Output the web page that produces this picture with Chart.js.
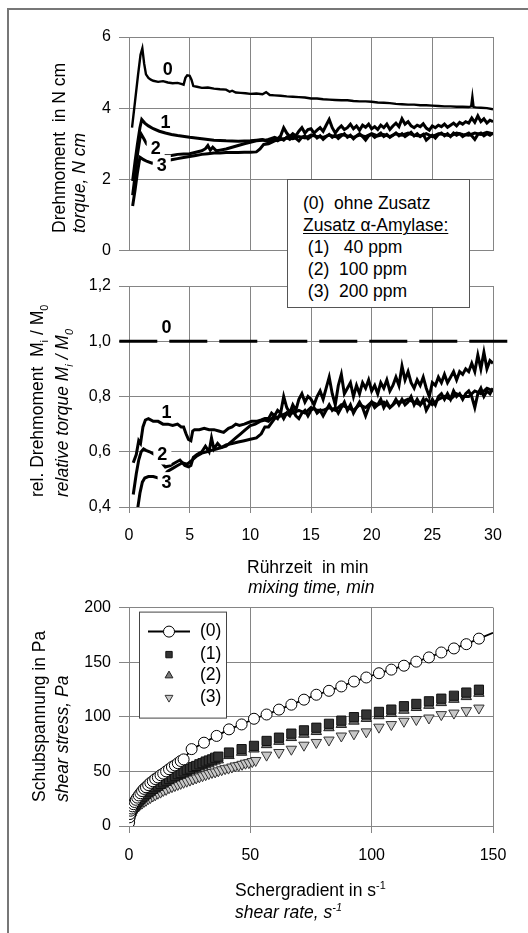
<!DOCTYPE html>
<html>
<head>
<meta charset="utf-8">
<script src="https://cdn.jsdelivr.net/npm/chart.js@4.4.1/dist/chart.umd.min.js"></script>
<style>
  body { margin: 0; background: #fff; font-family: "Liberation Sans", Arial, sans-serif; color: #000; }
  #page { position: relative; width: 528px; height: 933px; overflow: hidden; }
  canvas { position: absolute; left: 0; }
  .frame { position: absolute; left: 7px; top: 8px; width: 560px; height: 960px; border-left: 2px solid #777; border-top: 2px solid #777; }
  .t { position: absolute; font-size: 17.5px; line-height: 20px; white-space: pre; z-index: 3; }
  .r { transform-origin: 0 0; transform: rotate(-90deg); }
  .i { font-style: italic; }
  sub, sup { font-size: 62%; line-height: 0; }
  #legendTop { position: absolute; left: 287px; top: 179px; width: 181px; border: 1px solid #555;
    background: #fff; z-index: 4; box-sizing: content-box; padding-top: 12px; height: 115px; }
  #legendTop div { font-size: 17.5px; line-height: 22px; white-space: pre; padding-left: 15px; }
  #legendTop u { text-decoration-thickness: 1px; text-underline-offset: 2px; }
</style>
</head>
<body>
<div id="page">
  <div class="frame"></div>
  <canvas id="torqueChart" width="528" height="268" style="top:0"></canvas>
  <canvas id="relChart" width="528" height="292" style="top:268px"></canvas>
  <canvas id="shearChart" width="528" height="290" style="top:590px"></canvas>

  <div id="legendTop">
    <div>(0)  ohne Zusatz</div>
    <div><u>Zusatz α-Amylase:</u></div>
    <div> (1)   40 ppm</div>
    <div> (2)  100 ppm</div>
    <div> (3)  200 ppm</div>
  </div>

  <div class="t r" style="left:49px;top:233px">Drehmoment  in N cm</div>
  <div class="t r i" style="left:69px;top:233px">torque, N cm</div>
  <div class="t r" style="left:27px;top:497px">rel. Drehmoment  M<sub>i</sub> / M<sub>0</sub></div>
  <div class="t r i" style="left:52px;top:497px">relative torque M<sub>i</sub> / M<sub>0</sub></div>
  <div class="t r" style="left:29px;top:802px">Schubspannung in Pa</div>
  <div class="t r i" style="left:52px;top:802px">shear stress, Pa</div>

  <div class="t" style="left:247px;top:557px">Rührzeit  in min</div>
  <div class="t i" style="left:248px;top:577px">mixing time, min</div>
  <div class="t" style="left:235px;top:880px">Schergradient in s<sup>-1</sup></div>
  <div class="t i" style="left:235px;top:902px">shear rate, s<sup>-1</sup></div>
</div>

<script>
// torque in N cm over mixing time (min)
const tTop0 = [0.25, 0.5, 0.75, 0.95, 1.1, 1.25, 1.4, 1.6, 1.8, 2.0, 2.4, 2.8, 3.2, 3.6, 4.0, 4.3, 4.5, 4.65, 4.8, 5.0,
  5.15, 5.3, 5.6, 6.0, 6.5, 7.0, 7.5, 8.0, 8.3, 8.5, 8.8, 9.2, 9.6, 10.0, 10.5, 11.0, 11.3, 11.6, 12.0, 12.5,
  13, 13.5, 14, 14.5, 15, 15.5, 16, 16.5, 17, 17.5, 18, 18.5, 19, 19.5, 20, 20.5, 21, 21.5, 22, 22.5,
  23, 23.5, 24, 24.5, 25, 25.5, 26, 26.5, 27, 27.5, 28, 28.2, 28.3, 28.4, 28.6, 29, 29.5, 30]
const vTop0 = [3.45, 4.2, 4.95, 5.5, 5.68, 5.25, 4.95, 4.85, 4.80, 4.77, 4.74, 4.76, 4.72, 4.70, 4.71, 4.68, 4.66, 4.85, 4.92, 4.91,
  4.80, 4.62, 4.60, 4.57, 4.58, 4.55, 4.53, 4.52, 4.46, 4.49, 4.44, 4.43, 4.42, 4.40, 4.41, 4.39, 4.45, 4.37, 4.36, 4.35,
  4.33, 4.32, 4.31, 4.30, 4.27, 4.27, 4.25, 4.24, 4.23, 4.22, 4.22, 4.20, 4.19, 4.19, 4.18, 4.16, 4.15, 4.14, 4.12, 4.11,
  4.10, 4.10, 4.08, 4.08, 4.07, 4.06, 4.05, 4.05, 4.04, 4.04, 4.03, 4.05, 4.32, 4.03, 4.02, 4.01, 4.0, 3.97]

const tTop1 = [0.3, 0.5, 0.7, 0.9, 1.05, 1.3, 1.6, 2.0, 2.5, 3.0, 3.5, 4.0, 5.0, 6.0, 7.0, 8.0, 9.0, 10.0, 10.5, 11.0, 11.25]
const vTop1 = [1.95, 2.5, 3.0, 3.45, 3.68, 3.58, 3.50, 3.42, 3.35, 3.30, 3.26, 3.23, 3.18, 3.14, 3.10, 3.08, 3.07, 3.08, 3.10, 3.12, 3.10]
const tTop2 = [0.3, 0.5, 0.7, 0.9, 1.0, 1.2, 1.45, 1.7, 2.1, 2.6, 3.0, 3.5, 4.0, 4.5, 5.0, 5.5, 6.0, 6.3, 6.5, 6.7,
  6.9, 7.2, 7.5, 8.0, 8.5, 9.0, 9.5, 10.0, 10.5, 11.0, 11.25]
const vTop2 = [1.55, 2.1, 2.7, 3.15, 3.27, 3.15, 3.0, 2.92, 2.80, 2.68, 2.66, 2.67, 2.70, 2.71, 2.72, 2.76, 2.80, 2.86, 2.95, 2.82,
  2.90, 2.80, 2.82, 2.85, 2.90, 2.95, 3.00, 3.04, 3.08, 3.10, 3.08]
const tTop3 = [0.3, 0.5, 0.7, 0.9, 1.0, 1.2, 1.5, 1.9, 2.5, 3.0, 3.5, 4.0, 4.5, 5.0, 5.5, 6.0, 6.5, 7.0, 7.5, 8.0,
  8.5, 9.0, 9.5, 10.0, 10.5, 10.8, 11.1]
const vTop3 = [1.25, 1.7, 2.2, 2.62, 2.6, 2.55, 2.5, 2.45, 2.5, 2.52, 2.55, 2.58, 2.61, 2.64, 2.67, 2.70, 2.72, 2.74, 2.74, 2.75,
  2.75, 2.75, 2.76, 2.76, 2.77, 2.85, 2.98]

// noisy part after about 11.5 min
const tBand = [11.5, 11.75, 12, 12.25, 12.5, 12.75, 13, 13.25, 13.5, 13.75, 14, 14.25, 14.5, 14.75, 15, 15.25, 15.5, 15.75, 16, 16.25,
  16.5, 16.75, 17, 17.25, 17.5, 17.75, 18, 18.25, 18.5, 18.75, 19, 19.25, 19.5, 19.75, 20, 20.25, 20.5, 20.75, 21, 21.25,
  21.5, 21.75, 22, 22.25, 22.5, 22.75, 23, 23.25, 23.5, 23.75, 24, 24.25, 24.5, 24.75, 25, 25.25, 25.5, 25.75, 26, 26.25,
  26.5, 26.75, 27, 27.25, 27.5, 27.75, 28, 28.25, 28.5, 28.75, 29, 29.25, 29.5, 29.75, 30]
const vTop1Band = [3.12, 3.15, 3.18, 3.14, 3.22, 3.45, 3.30, 3.20, 3.28, 3.22, 3.35, 3.45, 3.30, 3.40, 3.42, 3.30, 3.38, 3.45, 3.35, 3.52,
  3.68, 3.45, 3.30, 3.42, 3.50, 3.40, 3.45, 3.55, 3.42, 3.50, 3.38, 3.52, 3.46, 3.55, 3.42, 3.48, 3.40, 3.52, 3.45, 3.55,
  3.40, 3.50, 3.58, 3.48, 3.70, 3.55, 3.62, 3.50, 3.45, 3.52, 3.48, 3.56, 3.44, 3.38, 3.50, 3.45, 3.52, 3.48, 3.55, 3.46,
  3.52, 3.58, 3.50, 3.60, 3.55, 3.62, 3.58, 3.72, 3.60, 3.78, 3.62, 3.70, 3.58, 3.66, 3.62]
const vTop2Band = [3.05, 3.10, 3.12, 3.08, 3.15, 3.10, 3.18, 3.12, 3.20, 3.15, 3.08, 3.18, 3.22, 3.14, 3.20, 3.26, 3.16, 3.22, 3.12, 3.20,
  3.26, 3.18, 3.24, 3.15, 3.22, 3.28, 3.18, 3.24, 3.14, 3.22, 3.28, 3.20, 3.10, 3.22, 3.26, 3.18, 3.24, 3.30, 3.20, 3.26,
  3.18, 3.24, 3.30, 3.22, 3.28, 3.20, 3.26, 3.32, 3.22, 3.28, 3.20, 3.26, 3.10, 3.18, 3.24, 3.16, 3.26, 3.30, 3.22, 3.28,
  3.20, 3.30, 3.24, 3.28, 3.20, 3.26, 3.30, 3.22, 3.12, 3.26, 3.30, 3.22, 3.28, 3.24, 3.30]
const tBand3 = [11.5, 12, 12.5, 13, 13.5, 14, 14.5, 15, 15.5, 16, 16.5, 17, 17.5, 18, 18.5, 19, 19.5, 20, 20.5, 21,
  21.5, 22, 22.5, 23, 23.5, 24, 24.5, 25, 25.5, 26, 26.5, 27, 27.5, 28, 28.5, 29, 29.5, 30]
const vTop3Band = [3.0, 3.08, 3.12, 3.16, 3.14, 3.20, 3.16, 3.24, 3.20, 3.18, 3.24, 3.20, 3.26, 3.22, 3.18, 3.24, 3.20, 3.28, 3.22, 3.26,
  3.20, 3.28, 3.24, 3.30, 3.24, 3.22, 3.28, 3.20, 3.28, 3.26, 3.22, 3.30, 3.26, 3.24, 3.30, 3.26, 3.32, 3.28]

// relative torque Mi / M0
const tRel0 = [-0.8, 31.6]
const vRel0 = [1.0, 1.0]
const tRel1 = [0.35, 0.6, 0.8, 0.95, 1.15, 1.35, 1.6, 2.0, 2.4, 2.8, 3.2, 3.6, 4.0, 4.3, 4.5, 4.7, 4.9, 5.1, 5.25, 5.4,
  5.8, 6.2, 6.6, 7.0, 7.4, 7.8, 8.2, 8.5, 8.8, 9.1, 9.5, 9.8, 10.1, 10.5, 10.9, 11.2]
const vRel1 = [0.56, 0.59, 0.64, 0.63, 0.69, 0.715, 0.72, 0.71, 0.71, 0.70, 0.70, 0.695, 0.70, 0.69, 0.69, 0.665, 0.645, 0.64, 0.675, 0.68,
  0.68, 0.685, 0.68, 0.68, 0.675, 0.67, 0.685, 0.69, 0.70, 0.695, 0.70, 0.705, 0.71, 0.71, 0.715, 0.72]
const tRel2 = [0.35, 0.6, 0.8, 1.0, 1.2, 1.4, 1.7, 2.1, 2.5, 3.0, 3.4, 3.8, 4.2, 4.6, 4.9, 5.1, 5.3, 5.6, 6.0, 6.3,
  6.6, 6.8, 7.0, 7.3, 7.6, 8.0, 8.4, 8.8, 9.2, 9.6, 10.0, 10.4, 10.8, 11.2]
const vRel2 = [0.445, 0.52, 0.57, 0.60, 0.61, 0.605, 0.60, 0.59, 0.57, 0.545, 0.55, 0.56, 0.57, 0.55, 0.545, 0.55, 0.58, 0.59, 0.60, 0.62,
  0.60, 0.65, 0.61, 0.63, 0.615, 0.62, 0.635, 0.65, 0.665, 0.68, 0.695, 0.70, 0.71, 0.715]
const tRel3 = [0.7, 0.9, 1.1, 1.3, 1.6, 2.0, 2.4, 2.8, 3.2, 3.6, 4.0, 4.4, 4.8, 5.2, 5.6, 6.0, 6.4, 6.8, 7.2, 7.6,
  8.0, 8.5, 9.0, 9.5, 10.0, 10.5, 10.9, 11.2]
const vRel3 = [0.39, 0.45, 0.49, 0.505, 0.51, 0.51, 0.505, 0.51, 0.53, 0.54, 0.55, 0.56, 0.555, 0.57, 0.585, 0.595, 0.60, 0.605, 0.61, 0.615,
  0.625, 0.63, 0.635, 0.64, 0.645, 0.65, 0.665, 0.69]
const vRel1Band = [0.72, 0.74, 0.73, 0.75, 0.74, 0.80, 0.76, 0.74, 0.77, 0.75, 0.79, 0.81, 0.78, 0.80, 0.79, 0.77, 0.80, 0.82, 0.79, 0.83,
  0.87, 0.81, 0.77, 0.84, 0.88, 0.81, 0.83, 0.85, 0.80, 0.84, 0.81, 0.85, 0.83, 0.86, 0.82, 0.84, 0.81, 0.85, 0.83, 0.86,
  0.82, 0.84, 0.87, 0.84, 0.91, 0.86, 0.89, 0.85, 0.83, 0.86, 0.84, 0.87, 0.83, 0.80, 0.85, 0.84, 0.87, 0.85, 0.88, 0.85,
  0.87, 0.89, 0.86, 0.89, 0.88, 0.90, 0.89, 0.92, 0.89, 0.95, 0.90, 0.96, 0.90, 0.93, 0.92]
const vRel2Band = [0.71, 0.72, 0.73, 0.72, 0.74, 0.72, 0.74, 0.73, 0.75, 0.73, 0.72, 0.74, 0.75, 0.73, 0.75, 0.76, 0.74, 0.75, 0.73, 0.75,
  0.77, 0.75, 0.76, 0.74, 0.76, 0.78, 0.75, 0.77, 0.74, 0.76, 0.78, 0.76, 0.73, 0.76, 0.78, 0.76, 0.77, 0.79, 0.76, 0.78,
  0.76, 0.77, 0.79, 0.77, 0.79, 0.77, 0.78, 0.80, 0.77, 0.79, 0.77, 0.79, 0.75, 0.77, 0.79, 0.77, 0.80, 0.81, 0.79, 0.81,
  0.79, 0.82, 0.80, 0.81, 0.79, 0.81, 0.82, 0.80, 0.76, 0.81, 0.83, 0.80, 0.82, 0.81, 0.83]
const vRel3Band = [0.69, 0.72, 0.73, 0.74, 0.74, 0.75, 0.74, 0.76, 0.75, 0.75, 0.76, 0.75, 0.77, 0.76, 0.75, 0.77, 0.76, 0.78, 0.77, 0.78,
  0.76, 0.78, 0.78, 0.79, 0.78, 0.77, 0.79, 0.77, 0.79, 0.80, 0.79, 0.81, 0.80, 0.80, 0.82, 0.81, 0.83, 0.82]

// curve labels: text, time, value, white backing
const torqueLabels = [["0", 3.2, 5.1, false], ["1", 3.0, 3.6, false], ["2", 2.2, 2.88, true], ["3", 2.7, 2.4, true]]
const relLabels = [["0", 3.1, 1.05, false], ["1", 3.1, 0.745, false], ["2", 2.75, 0.59, true], ["3", 3.1, 0.49, true]]

// flow curves: shear rate (1/s) and shear stress (Pa)
const shearLow0 = [0, 0.2, 0.4, 0.7, 1.0, 1.4, 1.8, 2.3, 2.8, 3.4, 4.0, 4.7, 5.4, 6.2, 7.0, 7.9, 8.8, 9.8, 10.8, 11.9,
  13.0, 14.1, 15.3, 16.5, 17.7, 18.9, 20.1, 21.3, 22.5]
const shearRamp0 = [25.8, 30.9, 36.1, 41.2, 46.4, 51.5, 56.7, 61.8, 66.9, 72.1, 77.2, 82.4, 87.5, 92.7, 97.8, 103.0, 108.1, 113.3, 118.4, 123.6,
  128.7, 133.9, 139.0, 144.2, 150]
const stress0 = [3, 8, 11, 14, 16, 18, 20, 22, 24, 26, 28, 30, 32, 34, 35.5, 37.5, 39.5, 41, 43, 44.5,
  46.5, 48, 50, 52, 54, 55.5, 57.5, 59.5, 61,
  70.4, 76.3, 82.5, 88.5, 93, 98.2, 102.1, 106.6, 111.1, 115.7, 120.2, 123.8, 127.8, 132.3, 136, 139.9, 143.2, 146.8, 150.5, 154.4,
  158.9, 162.6, 166.5, 171.6, 176.9]
const shearLow = [0, 0.2, 0.4, 0.7, 1.0, 1.4, 1.8, 2.3, 2.8, 3.4, 4.0, 4.7, 5.4, 6.2, 7.0, 7.9, 8.8, 9.8, 10.8, 11.9,
  13.0, 14.1, 15.3, 16.5, 17.7, 18.9, 20.1, 21.3, 22.5, 23.8, 25.1, 26.4, 27.7, 29.0, 30.3, 31.6, 32.9, 34.2, 35.5, 36.8]
const shearRamp1 = [41.2, 46.4, 51.5, 56.7, 61.8, 66.9, 72.1, 77.2, 82.4, 87.5, 92.7, 97.8, 103.0, 108.1, 113.3, 118.4, 123.6, 128.7, 133.9, 139.0, 144.2]
const stress1 = [2, 7, 10, 12.5, 14, 16, 17.5, 19, 20.5, 22, 23.5, 25, 26.5, 28, 29.5, 31, 32.5, 34, 35.5, 37,
  38.5, 40, 41.5, 43, 44.5, 46, 47.5, 48.5, 50, 51.5, 52.5, 54, 55, 56.5, 57.5, 59, 60, 61, 62.5, 63.5,
  67.3, 70.4, 73.4, 77.9, 80.9, 84.6, 87.6, 90, 93.6, 96.5, 99.7, 102.1, 104.5, 106.6, 109.7, 111.8, 114.2, 116.6, 119.3, 122.2, 124.8]
const stress2 = [1, 6, 9, 11, 12.5, 14.5, 16, 17.5, 19, 20.5, 22, 23.5, 25, 26.5, 28, 29.5, 31, 32.5, 34, 35.5,
  37, 38.5, 40, 41.5, 43, 44, 45.5, 46.5, 48, 49, 50.5, 51.5, 52.5, 54, 55, 56, 57, 58.5, 59.5, 60.5,
  64.5, 67.5, 70.5, 74.5, 77.5, 81, 84, 86.5, 90, 93, 96, 98.5, 101, 103, 106, 108.5, 110.5, 113, 116, 118.5, 121.5]
const shearLow3 = [0, 0.2, 0.4, 0.7, 1.0, 1.4, 1.8, 2.3, 2.8, 3.4, 4.0, 4.7, 5.4, 6.2, 7.0, 7.9, 8.8, 9.8, 10.8, 11.9,
  13.0, 14.1, 15.3, 16.5, 17.7, 18.9, 20.1, 21.3, 22.5, 23.8, 25.1, 26.4, 27.7, 29.0, 30.3, 31.6, 32.9, 34.2, 35.5, 36.8,
  38.2, 39.6, 41.0, 42.4, 43.8, 45.2, 46.6, 48.0, 49.4, 50.8, 52.2]
const shearRamp3 = [56.7, 61.8, 66.9, 72.1, 77.2, 82.4, 87.5, 92.7, 97.8, 103.0, 108.1, 113.3, 118.4, 123.6, 128.7, 133.9, 139.0, 144.2]
const stress3 = [0, 4, 7, 9, 10.5, 12, 13.5, 15, 16, 17.5, 18.5, 20, 21, 22.5, 23.5, 25, 26, 27.5, 28.5, 30,
  31, 32.5, 33.5, 35, 36, 37, 38, 39, 40, 41, 42, 43, 44, 45, 46, 47, 48, 49, 49.5, 50.5,
  51.5, 52.5, 53, 54, 55, 55.5, 56.5, 57.5, 58, 59, 60,
  64.9, 67.3, 70.3, 74, 76.5, 78.7, 82.4, 84.4, 86.2, 90.5, 92.9, 95.9, 97.5, 98.9, 102, 103.4, 105.6, 108]
const shearNames = ["(0)", "(1)", "(2)", "(3)"]

const gridGray = "#858585"
const fontFamily = '"Liberation Sans", Arial, sans-serif'
Chart.defaults.font.family = fontFamily
Chart.defaults.color = "#000"

const pts = (xs, ys) => xs.map((x, i) => ({ x: x, y: ys[i] }))

const curveLabels = {
  id: "curveLabels",
  afterDatasetsDraw(chart, args, opts) {
    const { ctx, scales } = chart
    ctx.save()
    ctx.font = "bold 18px " + fontFamily
    ctx.textAlign = "center"
    ctx.textBaseline = "middle"
    opts.items.forEach(([text, tx, ty, mask]) => {
      const px = scales.x.getPixelForValue(tx)
      const py = scales.y.getPixelForValue(ty)
      if (mask) {
        const w = ctx.measureText(text).width + 8
        ctx.fillStyle = "#fff"
        ctx.fillRect(px - w / 2, py - 10, w, 20)
      }
      ctx.fillStyle = "#000"
      ctx.fillText(text, px, py + 1)
    })
    ctx.restore()
  }
}

function yAxis(min, max, step, fmt) {
  const ticks = { stepSize: step, padding: 8, font: { size: 16 } }
  if (fmt) ticks.callback = fmt
  return {
    min: min, max: max, ticks: ticks,
    grid: { color: gridGray, tickLength: 10 },
    border: { color: gridGray },
    afterFit: (s) => { s.width = 129 }
  }
}

function xAxis(max, step, showTicks, tickLen, height) {
  return {
    type: "linear", min: 0, max: max,
    ticks: { stepSize: step, display: showTicks, padding: 13, maxRotation: 0, font: { size: 16 } },
    grid: { color: gridGray, drawTicks: showTicks, tickLength: tickLen },
    border: { color: gridGray },
    afterFit: (s) => { s.height = height }
  }
}

const lineSet = (data, width) => ({
  data: data, borderColor: "#000", borderWidth: width, pointRadius: 0, showLine: true, tension: 0
})

new Chart(document.getElementById("torqueChart"), {
  type: "scatter",
  data: {
    datasets: [
      lineSet(pts(tTop0, vTop0), 2.4),
      lineSet(pts(tTop1.concat(tBand), vTop1.concat(vTop1Band)), 3),
      lineSet(pts(tTop2.concat(tBand), vTop2.concat(vTop2Band)), 3),
      lineSet(pts(tTop3.concat(tBand3), vTop3.concat(vTop3Band)), 3)
    ]
  },
  options: {
    responsive: false, animation: false, devicePixelRatio: 1,
    layout: { padding: { top: 37, right: 35, left: 0, bottom: 0 } },
    plugins: { legend: { display: false }, tooltip: { enabled: false }, curveLabels: { items: torqueLabels } },
    scales: { x: xAxis(30, 5, false, 0, 12), y: yAxis(0, 6, 2) }
  },
  plugins: [curveLabels]
})

const commaFmt = (v) => v.toFixed(1).replace(".", ",")

new Chart(document.getElementById("relChart"), {
  type: "scatter",
  data: {
    datasets: [
      Object.assign(lineSet(pts(tRel0, vRel0), 3), { borderDash: [38, 12], clip: false }),
      lineSet(pts(tRel1.concat(tBand), vRel1.concat(vRel1Band)), 3),
      lineSet(pts(tRel2.concat(tBand), vRel2.concat(vRel2Band)), 3),
      lineSet(pts(tRel3.concat(tBand3), vRel3.concat(vRel3Band)), 3)
    ]
  },
  options: {
    responsive: false, animation: false, devicePixelRatio: 1,
    layout: { padding: { top: 18, right: 35, left: 0, bottom: 0 } },
    plugins: { legend: { display: false }, tooltip: { enabled: false }, curveLabels: { items: relLabels } },
    scales: { x: xAxis(30, 5, true, 6, 53), y: yAxis(0.4, 1.2, 0.2, commaFmt) }
  },
  plugins: [curveLabels]
})

const shearLegend = {
  id: "shearLegend",
  afterDraw(chart) {
    const { ctx, chartArea } = chart
    const left = chartArea.left + 10
    const top = chartArea.top + 4
    const rows = [20, 43, 64, 86]
    ctx.save()
    ctx.fillStyle = "#fff"
    ctx.strokeStyle = "#444"
    ctx.lineWidth = 1
    ctx.fillRect(left, top, 87, 106)
    ctx.strokeRect(left + 0.5, top + 0.5, 87, 106)
    chart.data.datasets.forEach((ds, i) => {
      const y = top + rows[i]
      const mx = left + 30
      if (ds.showLine) {
        ctx.strokeStyle = "#000"
        ctx.lineWidth = 2
        ctx.beginPath()
        ctx.moveTo(left + 9, y)
        ctx.lineTo(left + 51, y)
        ctx.stroke()
      }
      ctx.fillStyle = ds.pointBackgroundColor
      ctx.strokeStyle = ds.pointBorderColor
      ctx.lineWidth = 1
      Chart.helpers.drawPoint(ctx, {
        pointStyle: ds.pointStyle, rotation: ds.pointRotation || 0,
        radius: i === 0 ? 5.5 : 4.5, borderWidth: 1
      }, mx, y)
      ctx.fillStyle = "#000"
      ctx.font = "17.5px " + fontFamily
      ctx.textAlign = "left"
      ctx.textBaseline = "middle"
      ctx.fillText(shearNames[i], left + 61, y)
    })
    ctx.restore()
  }
}

new Chart(document.getElementById("shearChart"), {
  type: "scatter",
  data: {
    datasets: [
      {
        data: pts(shearLow0.concat(shearRamp0), stress0), showLine: true, borderColor: "#000", borderWidth: 1.8,
        pointStyle: "circle", pointRadius: (c) => (c.dataIndex === stress0.length - 1 ? 0 : 5.5),
        pointBackgroundColor: "#fff", pointBorderColor: "#000", pointBorderWidth: 1
      },
      {
        data: pts(shearLow.concat(shearRamp1), stress1), pointStyle: "rect", pointRadius: 6.5,
        pointBackgroundColor: "#333", pointBorderColor: "#111", pointBorderWidth: 1
      },
      {
        data: pts(shearLow.concat(shearRamp1), stress2), pointStyle: "triangle", pointRadius: 6,
        pointBackgroundColor: "#7a7a7a", pointBorderColor: "#222", pointBorderWidth: 1
      },
      {
        data: pts(shearLow3.concat(shearRamp3), stress3), pointStyle: "triangle", pointRotation: 180, pointRadius: 6,
        pointBackgroundColor: "#c8c8c8", pointBorderColor: "#333", pointBorderWidth: 1
      }
    ]
  },
  options: {
    responsive: false, animation: false, devicePixelRatio: 1,
    layout: { padding: { top: 15, right: 35, left: 0, bottom: 0 } },
    plugins: { legend: { display: false }, tooltip: { enabled: false } },
    scales: { x: xAxis(150, 50, true, 7, 54), y: yAxis(0, 200, 50) }
  },
  plugins: [shearLegend]
})
</script>
</body>
</html>
